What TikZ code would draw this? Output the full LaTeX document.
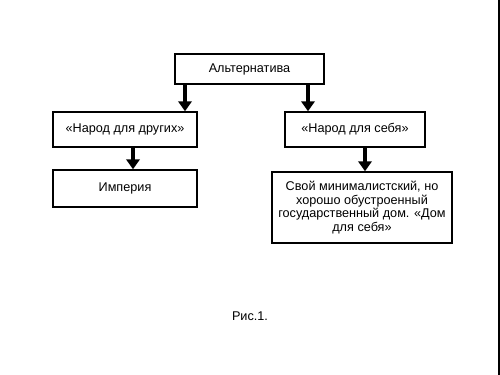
\documentclass[tikz,border=0pt]{standalone}
\usepackage{fontspec}
\setmainfont{Liberation Sans}
\usetikzlibrary{arrows.meta}
\begin{document}
\begin{tikzpicture}[x=0.75pt,y=-0.75pt,
  box/.style={draw=black,line width=1.1pt,fill=white,inner sep=0pt,align=center,font=\fontsize{9.5}{10.2}\selectfont},
  arr/.style={line width=2.3pt,-{Triangle[length=7.5pt,width=10pt]}}]
\useasboundingbox (0,0) rectangle (500,375);
\node[box,minimum width=149*0.75pt,minimum height=30*0.75pt] (alt) at (249.5,69) {Альтернатива};
\node[box,minimum width=144*0.75pt,minimum height=35*0.75pt] (others) at (125,129.5) {«Народ для других»};
\node[box,minimum width=140*0.75pt,minimum height=35*0.75pt] (self) at (355,129.5) {«Народ для себя»};
\node[box,minimum width=144*0.75pt,minimum height=37*0.75pt] (emp) at (125,188.5) {Империя};
\node[box,minimum width=180*0.75pt,minimum height=71*0.75pt] (home) at (362,207.5) {Свой минималистский, но\\хорошо обустроенный\\государственный дом. «Дом\\для себя»};
\node[font=\fontsize{9.5}{10}\selectfont] (cap) at (250,316) {Рис.1.};
\coordinate (xa) at (185,0);
\coordinate (xb) at (308,0);
\coordinate (xc) at (133,0);
\coordinate (xd) at (365,0);
\draw[arr] (alt.south -| xa) -- (others.north -| xa);
\draw[arr] (alt.south -| xb) -- (self.north -| xb);
\draw[arr] (others.south -| xc) -- (emp.north -| xc);
\draw[arr] (self.south -| xd) -- (home.north -| xd);
\coordinate (e1) at (499,0);
\coordinate (e2) at (499,375);
\draw[line width=1.2pt] (e1) -- (e2);
\end{tikzpicture}
\end{document}
